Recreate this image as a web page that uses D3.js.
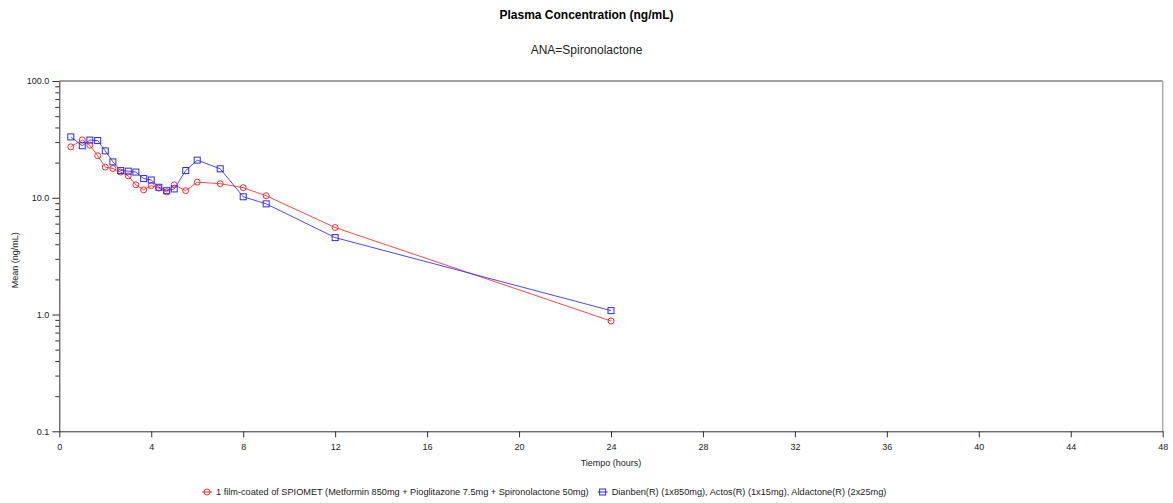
<!DOCTYPE html>
<html><head><meta charset="utf-8">
<script src="https://cdn.jsdelivr.net/npm/d3@7"></script>
<style>body{margin:0;background:#fff;} svg{display:block;font-family:"Liberation Sans",Arial,sans-serif;}</style>
</head><body>
<svg id="c" width="1173" height="503"></svg>
<script>
const times = [0.5,1,1.33,1.67,2,2.33,2.67,3,3.33,3.67,4,4.33,4.67,5,5.5,6,7,8,9,12,24];
const spiomet = [27.3,31.3,28.2,22.9,18.3,17.8,16.6,15.4,12.9,11.7,12.7,12.1,11.2,12.9,11.5,13.6,13.2,12.2,10.4,5.56,0.88];
const reference = [33.2,27.9,31.2,30.9,25.2,20.3,17.1,16.9,16.6,14.6,14.2,12.3,11.5,11.9,17.1,21.0,17.7,10.2,8.87,4.56,1.08];
const seriesNames = ["1 film-coated of SPIOMET (Metformin 850mg + Pioglitazone 7.5mg + Spironolactone 50mg)",
                     "Dianben(R) (1x850mg), Actos(R) (1x15mg), Aldactone(R) (2x25mg)"];
const xTicks = [0,4,8,12,16,20,24,28,32,36,40,44,48];
const yMajor = [0.1,1,10,100];
const yLabels = ["0.1","1.0","10.0","100.0"];
const title = "Plasma Concentration (ng/mL)";
const subtitle = "ANA=Spironolactone";
const xTitle = "Tiempo (hours)";
const yTitle = "Mean (ng/mL)";

const svg = d3.select("#c");
const L=59.3, R=1162.7, T=81, B=431.3;
const x = d3.scaleLinear().domain([0,48]).range([L,R]);
const y = d3.scaleLog().domain([0.1,100]).range([B,T]);

svg.append("text").attr("x",586.5).attr("y",19).attr("text-anchor","middle")
  .attr("font-size",12).attr("font-weight","bold").attr("fill","#000").text(title);
svg.append("text").attr("x",586.5).attr("y",54).attr("text-anchor","middle")
  .attr("font-size",12).attr("fill","#222").text(subtitle);

// frame
svg.append("line").attr("x1",L).attr("x2",R).attr("y1",T).attr("y2",T).attr("stroke","#444");
svg.append("line").attr("x1",R).attr("x2",R).attr("y1",T).attr("y2",B).attr("stroke","#aaa").attr("stroke-width",1.5);

// x axis
const xAxis = d3.axisBottom(x).tickValues(xTicks).tickFormat(d3.format("d")).tickSize(6).tickSizeOuter(0);
const gx = svg.append("g").attr("transform",`translate(0,${B})`).call(xAxis);
gx.select(".domain").attr("stroke","#333");
gx.selectAll(".tick line").attr("stroke","#333");
gx.selectAll("text").attr("font-size",9).attr("fill","#222").attr("dy","1.1em").attr("font-family","Liberation Sans, Arial, sans-serif");

// y axis
const minor = [];
for (let e=-1;e<2;e++) for (let m=2;m<=9;m++) minor.push(m*Math.pow(10,e));
const gyMinor = svg.append("g").attr("transform",`translate(${L},0)`)
  .call(d3.axisLeft(y).tickValues(minor).tickFormat("").tickSize(4).tickSizeOuter(0));
gyMinor.select(".domain").remove();
gyMinor.selectAll(".tick line").attr("stroke","#333");
const gy = svg.append("g").attr("transform",`translate(${L},0)`)
  .call(d3.axisLeft(y).tickValues(yMajor).tickFormat((d,i)=>yLabels[i]).tickSize(7).tickSizeOuter(0));
gy.select(".domain").attr("stroke","#333");
gy.selectAll(".tick line").attr("stroke","#333");
gy.selectAll("text").attr("font-size",9).attr("fill","#222").attr("font-family","Liberation Sans, Arial, sans-serif");

svg.append("text").attr("x",(L+R)/2).attr("y",466).attr("text-anchor","middle")
  .attr("font-size",9).attr("fill","#222").text(xTitle);
svg.append("text").attr("transform",`translate(18,${(T+B)/2+4}) rotate(-90)`).attr("text-anchor","middle")
  .attr("font-size",9).attr("fill","#222").text(yTitle);

const colors = ["#ff2a2a","#2a2aff"];
const datasets = [spiomet, reference];
const line = d3.line().x((d,i)=>x(times[i])).y(d=>y(d));
datasets.forEach((vals,k)=>{
  svg.append("path").datum(vals).attr("d",line).attr("fill","none")
    .attr("stroke",colors[k]).attr("stroke-width",1).attr("opacity",0.85);
});
// markers
svg.append("g").selectAll("circle").data(spiomet).join("circle")
  .attr("cx",(d,i)=>x(times[i])).attr("cy",d=>y(d)).attr("r",3)
  .attr("fill","none").attr("stroke",colors[0]).attr("stroke-width",1);
svg.append("g").selectAll("rect").data(reference).join("rect")
  .attr("x",(d,i)=>x(times[i])-3).attr("y",d=>y(d)-3).attr("width",6).attr("height",6)
  .attr("fill","none").attr("stroke",colors[1]).attr("stroke-width",1);

// legend
const lg = svg.append("g");
let cx = 207;
const ly = 492;
seriesNames.forEach((name,k)=>{
  lg.append("line").attr("x1",cx-5).attr("x2",cx+5).attr("y1",ly).attr("y2",ly).attr("stroke",colors[k]);
  if (k===0) lg.append("circle").attr("cx",cx).attr("cy",ly).attr("r",3).attr("fill","none").attr("stroke",colors[k]);
  else lg.append("rect").attr("x",cx-3).attr("y",ly-3).attr("width",6).attr("height",6).attr("fill","none").attr("stroke",colors[k]);
  const t = lg.append("text").attr("x",cx+9).attr("y",ly+3).attr("font-size",9.2).attr("fill","#222").text(name);
  cx = cx + 9 + t.node().getComputedTextLength() + 14;
});
</script>
</body></html>
